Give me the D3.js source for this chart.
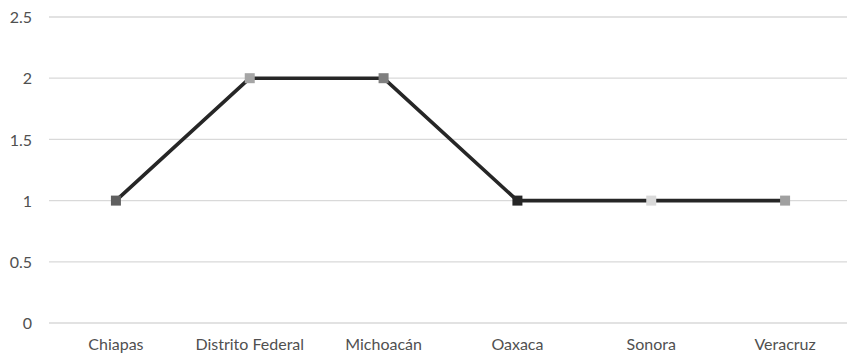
<!DOCTYPE html>
<html>
<head>
<meta charset="utf-8">
<script src="https://cdn.jsdelivr.net/npm/d3@7"></script>
<style>
  html, body { margin: 0; padding: 0; background: #fff; }
  svg { display: block; }
  .tick text { font-family: Lato, "Open Sans", sans-serif; fill: #505050; }
</style>
</head>
<body>
<svg id="chart" width="848" height="353"></svg>
<script>
// Categories (Mexican states) and their counts
const states = ["Chiapas", "Distrito Federal", "Michoacán", "Oaxaca", "Sonora", "Veracruz"];
const counts = [1, 2, 2, 1, 1, 1];
// Marker fill per point
const markerFills = ["#5f5f5f", "#a5a5a5", "#7f7f7f", "#262626", "#d9d9d9", "#a0a0a0"];
// Value-axis ticks
const yTicks = [0, 0.5, 1, 1.5, 2, 2.5];

const svg = d3.select("#chart");
const plotLeft = 49, plotRight = 852, plotTop = 17, plotBottom = 323;

const x = d3.scaleBand().domain(states).range([plotLeft, plotRight]);
const y = d3.scaleLinear().domain([0, 2.5]).range([plotBottom, plotTop]);

// Horizontal gridlines
svg.append("g")
  .selectAll("line")
  .data(yTicks)
  .join("line")
  .attr("x1", plotLeft).attr("x2", 847)
  .attr("y1", d => y(d)).attr("y2", d => y(d))
  .attr("stroke", "#d9d9d9").attr("stroke-width", 1.3);

// Y axis labels
const yAxis = svg.append("g")
  .attr("transform", `translate(${plotLeft - 17},0)`)
  .call(d3.axisLeft(y).tickValues(yTicks).tickSize(0).tickPadding(0).tickFormat(d3.format("")));
yAxis.select(".domain").remove();
yAxis.selectAll("text").attr("font-size", 16).attr("dy", "0.35em");

// X axis labels
const xAxis = svg.append("g")
  .attr("transform", `translate(0,${plotBottom})`)
  .call(d3.axisBottom(x).tickSize(0).tickPadding(16));
xAxis.select(".domain").remove();
xAxis.selectAll("text").attr("font-size", 16);

const cx = d => x(d) + x.bandwidth() / 2;
const pts = states.map((s, i) => ({ s, v: counts[i], fill: markerFills[i] }));

// Series line
svg.append("path")
  .datum(pts)
  .attr("fill", "none")
  .attr("stroke", "#262626")
  .attr("stroke-width", 3.6)
  .attr("stroke-linejoin", "round")
  .attr("d", d3.line().x(d => cx(d.s)).y(d => y(d.v)));

// Square markers
const m = 10;
svg.append("g")
  .selectAll("rect")
  .data(pts)
  .join("rect")
  .attr("x", d => cx(d.s) - m / 2)
  .attr("y", d => y(d.v) - m / 2)
  .attr("width", m).attr("height", m)
  .attr("fill", d => d.fill);
</script>
</body>
</html>
